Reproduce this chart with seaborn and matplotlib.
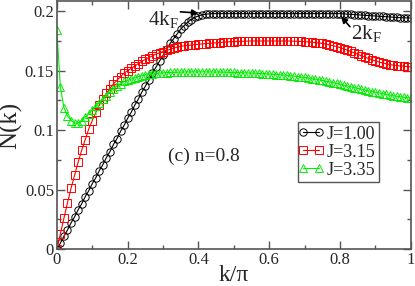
import matplotlib
matplotlib.use("Agg")
import matplotlib.pyplot as plt
import seaborn as sns
import numpy as np
from matplotlib.ticker import MultipleLocator, FuncFormatter
from matplotlib.lines import Line2D
from matplotlib.legend_handler import HandlerLine2D

# momentum grid k/pi
k = [i / 100 for i in range(101)]

# N(k) for J=1.00 (black circles)
n_j100 = [0.000, 0.005, 0.011, 0.016, 0.022, 0.027, 0.033, 0.038, 0.044, 0.049,
          0.055, 0.060, 0.066, 0.071, 0.077, 0.082, 0.088, 0.093, 0.099, 0.104,
          0.110, 0.115, 0.121, 0.126, 0.132, 0.137, 0.142, 0.148, 0.153, 0.158,
          0.163, 0.168, 0.173, 0.177, 0.181, 0.185, 0.188, 0.191, 0.193, 0.195,
          0.196, 0.197, 0.1975, 0.1978, 0.198, 0.198, 0.198, 0.198, 0.198, 0.198,
          0.198, 0.198, 0.198, 0.198, 0.198, 0.198, 0.198, 0.198, 0.198, 0.198,
          0.198, 0.198, 0.198, 0.198, 0.198, 0.198, 0.198, 0.198, 0.198, 0.198,
          0.198, 0.198, 0.198, 0.198, 0.198, 0.198, 0.198, 0.198, 0.198, 0.198,
          0.198, 0.1978, 0.1976, 0.1974, 0.1972, 0.197, 0.1968, 0.1966, 0.1964, 0.1962,
          0.196, 0.1958, 0.1956, 0.1954, 0.1952, 0.195, 0.1948, 0.1946, 0.1945, 0.1944,
          0.1943]

# N(k) for J=3.15 (red squares)
n_j315 = [0.000, 0.013, 0.026, 0.039, 0.051, 0.062, 0.073, 0.083, 0.092, 0.101,
          0.108, 0.115, 0.121, 0.126, 0.131, 0.135, 0.139, 0.142, 0.145, 0.148,
          0.150, 0.152, 0.154, 0.156, 0.158, 0.1595, 0.161, 0.1625, 0.164, 0.165,
          0.166, 0.167, 0.168, 0.169, 0.1698, 0.1705, 0.171, 0.1713, 0.1716, 0.172,
          0.1723, 0.1725, 0.1728, 0.173, 0.1732, 0.1735, 0.1737, 0.174, 0.1742, 0.1744,
          0.1745, 0.1746, 0.1747, 0.1748, 0.1749, 0.175, 0.175, 0.175, 0.175, 0.175,
          0.175, 0.175, 0.175, 0.175, 0.175, 0.175, 0.1749, 0.1748, 0.1747, 0.1746,
          0.1744, 0.1742, 0.174, 0.1737, 0.1733, 0.1729, 0.1724, 0.1718, 0.1711, 0.1703,
          0.1694, 0.1684, 0.1673, 0.1662, 0.165, 0.1638, 0.1626, 0.1614, 0.1603, 0.1592,
          0.1582, 0.1573, 0.1565, 0.1558, 0.1552, 0.1547, 0.1543, 0.154, 0.1537, 0.1535,
          0.1533]

# N(k) for J=3.35 (green triangles)
n_j335 = [0.184, 0.136, 0.119, 0.112, 0.108, 0.106, 0.106, 0.108, 0.111, 0.114,
          0.117, 0.120, 0.123, 0.126, 0.129, 0.132, 0.135, 0.137, 0.139, 0.141,
          0.142, 0.143, 0.144, 0.145, 0.1458, 0.1465, 0.147, 0.1474, 0.1477, 0.148,
          0.1482, 0.1484, 0.1485, 0.1486, 0.1487, 0.1488, 0.1489, 0.149, 0.149, 0.149,
          0.149, 0.149, 0.149, 0.149, 0.1489, 0.1489, 0.1488, 0.1488, 0.1487, 0.1486,
          0.1485, 0.1484, 0.1483, 0.1482, 0.1481, 0.148, 0.1479, 0.1477, 0.1476, 0.1474,
          0.1472, 0.147, 0.1468, 0.1466, 0.1463, 0.146, 0.1457, 0.1454, 0.1451, 0.1447,
          0.1443, 0.1439, 0.1434, 0.1429, 0.1424, 0.1418, 0.1412, 0.1406, 0.14, 0.1393,
          0.1386, 0.1379, 0.1372, 0.1365, 0.1358, 0.1351, 0.1344, 0.1337, 0.1331, 0.1325,
          0.1319, 0.1313, 0.1307, 0.1301, 0.1295, 0.129, 0.1285, 0.1281, 0.1277, 0.1273,
          0.127]

series = [("J=1.00", n_j100, "black", "o"),
          ("J=3.15", n_j315, "#ff0000", "s"),
          ("J=3.35", n_j335, "#00ee00", "^")]

sns.set_style("ticks")
plt.rcParams['font.family'] = ['Liberation Serif', 'DejaVu Serif']
plt.rcParams['mathtext.fontset'] = 'custom'
plt.rcParams['mathtext.rm'] = 'Liberation Serif'
plt.rcParams['mathtext.it'] = 'Liberation Serif:italic'

fig = plt.figure(figsize=(4.15, 2.86), dpi=100)
ax = fig.add_axes([0.137, 0.129, 0.853, 0.867])

for name, vals, col, mk in series:
    sns.lineplot(x=k, y=vals, ax=ax, color=col, linewidth=0.8, marker=mk,
                 markersize=5.3, markerfacecolor='none', markeredgecolor=col,
                 markeredgewidth=0.7, label=name, legend=False)

ax.set_xlim(0, 1)
ax.set_ylim(0, 0.2085)
ax.xaxis.set_major_locator(MultipleLocator(0.2))
ax.xaxis.set_minor_locator(MultipleLocator(0.1))
ax.yaxis.set_major_locator(MultipleLocator(0.05))
ax.yaxis.set_minor_locator(MultipleLocator(0.025))
fmt = FuncFormatter(lambda v, p: "%g" % round(v, 3))
ax.xaxis.set_major_formatter(fmt)
ax.yaxis.set_major_formatter(fmt)
ax.tick_params(which='both', direction='in', top=True, right=True,
               color='#555555', labelsize=12, pad=2)
ax.tick_params(which='major', length=6, width=1)
ax.tick_params(which='minor', length=3, width=1)
for s in ax.spines.values():
    s.set_color('#555555')
    s.set_linewidth(1.2)

ax.set_xlabel("k/π", fontsize=17, labelpad=-2)
ax.set_ylabel("N(k)", fontsize=18, labelpad=2)

ax.text(0.414, 0.078, "(c) n=0.8", fontsize=14, ha='center', va='center')

ax.annotate('', xy=(0.40, 0.1985), xytext=(0.349, 0.1995),
            arrowprops=dict(arrowstyle='-|>', color='k', lw=1.2,
                            mutation_scale=9, shrinkA=0, shrinkB=0))
ax.text(0.343, 0.193, r"4k$_\mathregular{F}$", fontsize=15, ha='right', va='center')
ax.annotate('', xy=(0.803, 0.1955), xytext=(0.828, 0.187),
            arrowprops=dict(arrowstyle='-|>', color='k', lw=1.2,
                            mutation_scale=9, shrinkA=0, shrinkB=0))
ax.text(0.831, 0.181, r"2k$_\mathregular{F}$", fontsize=15, ha='left', va='center')

leg = ax.legend(loc='lower left', bbox_to_anchor=(0.681, 0.27), borderaxespad=0,
                numpoints=2, fancybox=False, framealpha=1, edgecolor='#555555',
                fontsize=13, handlelength=1.05, handletextpad=0.35, borderpad=0.2,
                labelspacing=0.05, handler_map={Line2D: HandlerLine2D(marker_pad=0.1)})
leg.get_frame().set_linewidth(1)

fig.savefig("out.png", dpi=100)
